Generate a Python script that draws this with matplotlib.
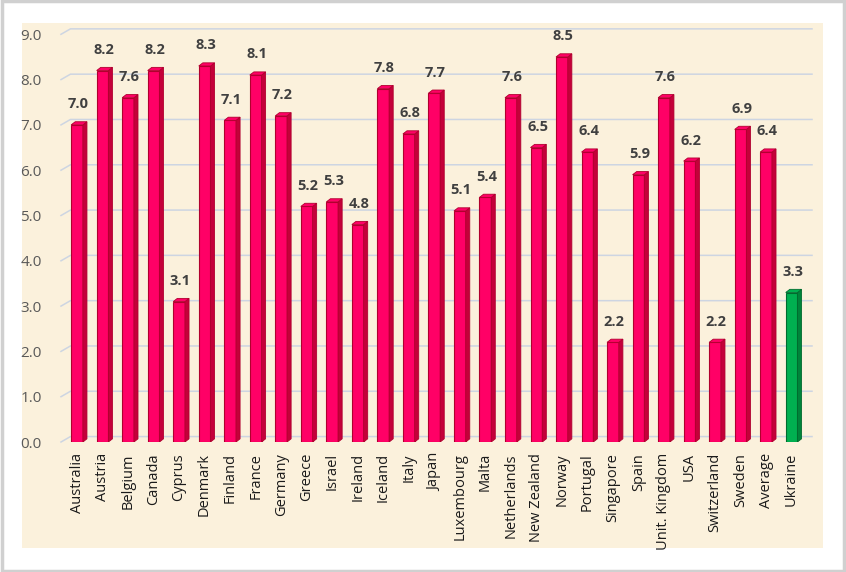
import matplotlib
matplotlib.use("Agg")
from matplotlib import pyplot as plt
from matplotlib.patches import Polygon, Rectangle

countries = ['Australia', 'Austria', 'Belgium', 'Canada', 'Cyprus', 'Denmark', 'Finland',
             'France', 'Germany', 'Greece', 'Israel', 'Ireland', 'Iceland', 'Italy', 'Japan',
             'Luxembourg', 'Malta', 'Netherlands', 'New Zealand', 'Norway', 'Portugal',
             'Singapore', 'Spain', 'Unit. Kingdom', 'USA', 'Switzerland', 'Sweden',
             'Average', 'Ukraine']
values = [7.0, 8.2, 7.6, 8.2, 3.1, 8.3, 7.1, 8.1, 7.2, 5.2, 5.3, 4.8, 7.8, 6.8, 7.7,
          5.1, 5.4, 7.6, 6.5, 8.5, 6.4, 2.2, 5.9, 7.6, 6.2, 2.2, 6.9, 6.4, 3.3]
yticks = [0, 1, 2, 3, 4, 5, 6, 7, 8, 9]

plt.rcParams['font.family'] = ['Open Sans', 'DejaVu Sans']

fig = plt.figure(figsize=(8.46, 5.72), dpi=100)
fig.patches.append(Rectangle((0.002, 0.002), 0.996, 0.996, transform=fig.transFigure,
                             facecolor='white', edgecolor='#D0D0D0', linewidth=2.5, zorder=-2))
fig.patches.append(Rectangle((22 / 846, 24 / 572), 801 / 846, 525 / 572, transform=fig.transFigure,
                             facecolor='#FBF1DC', edgecolor='none', zorder=-1))

# front plane: 0 at y=442px, 45.3 px per unit; first bar at x=77px, 25.52 px apart
ymax = 9.25
ax = fig.add_axes([61 / 846, 130 / 572, 751 / 846, ymax * 45.3 / 572])
ax.set_facecolor('none')
ax.set_xlim(-0.627, 28.8)
ax.set_ylim(0, ymax)

# back-wall gridlines with a short perspective stroke at the left
gdx, gdy = 0.37, 0.12
for y in yticks:
    ax.plot([-0.627, -0.627 + gdx, 28.8], [y, y + gdy, y + gdy],
            color='#CDD5E2', linewidth=1.1, zorder=0, clip_on=False)

w = 0.46
dx = 0.16
dy = 0.07
for i, (name, v) in enumerate(zip(countries, values)):
    if name == 'Ukraine':
        front, side, edge = '#00B050', '#00843A', '#006B2E'
    else:
        front, side, edge = '#FF0066', '#C4003A', '#B0002E'
    ax.bar(i, v, width=w, color=front, edgecolor=edge, linewidth=0.8, zorder=3)
    x0, x1 = i - w / 2, i + w / 2
    ax.add_patch(Polygon([(x1, 0), (x1 + dx, dy), (x1 + dx, v + dy), (x1, v)],
                         closed=True, facecolor=side, edgecolor=edge, linewidth=0.6, zorder=3))
    ax.add_patch(Polygon([(x0, v), (x1, v), (x1 + dx, v + dy), (x0 + dx, v + dy)],
                         closed=True, facecolor=front, edgecolor=edge, linewidth=0.6, zorder=3))
    ax.text(i + 0.05, v + 0.3, f'{v:.1f}', ha='center', va='bottom', fontsize=10.5,
            fontweight='bold', color='#404040', zorder=4)

ax.set_yticks(yticks)
ax.set_yticklabels([f'{y:.1f}' for y in yticks], fontsize=11, color='#595959')
ax.set_xticks(range(len(countries)))
ax.set_xticklabels(countries, rotation=90, fontsize=10.5, color='#1A1A1A')
ax.tick_params(axis='y', length=0, pad=14)
ax.tick_params(axis='x', length=0, pad=8)
for s in ax.spines.values():
    s.set_visible(False)

fig.savefig('out.png', dpi=100)
